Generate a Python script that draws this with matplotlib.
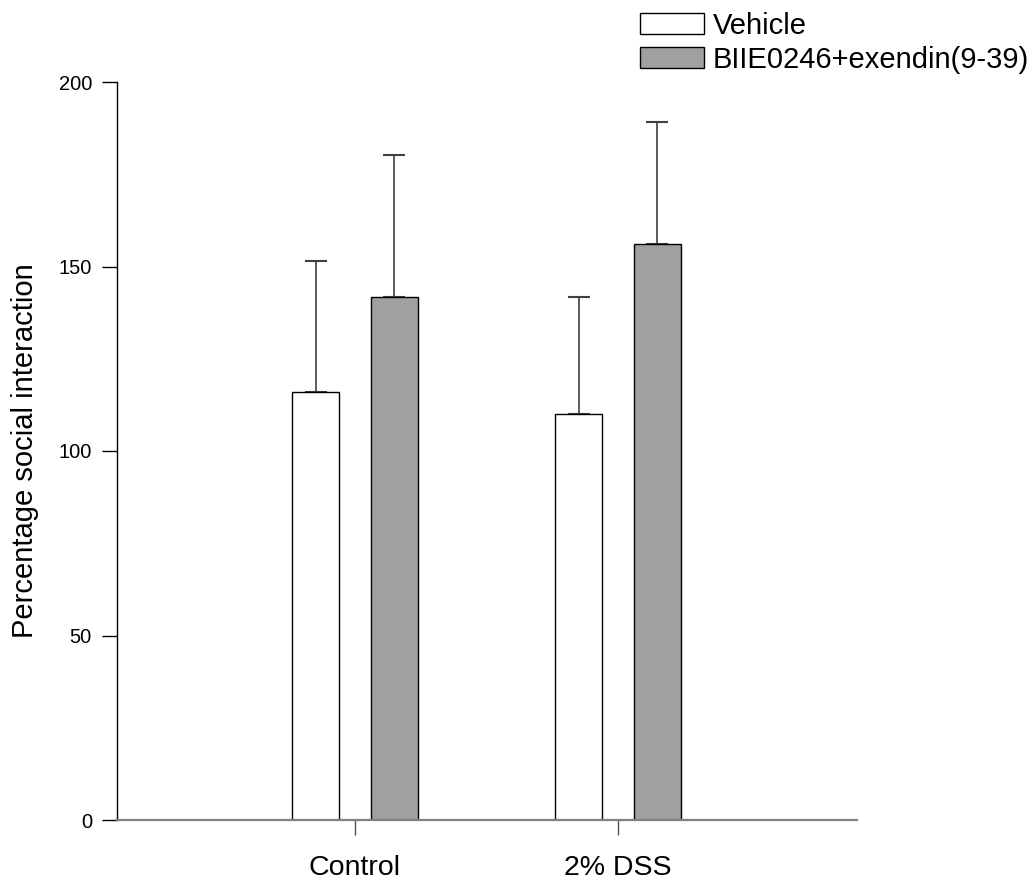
import matplotlib
matplotlib.use("Agg")
import matplotlib.pyplot as plt
import numpy as np

plt.rcParams['font.family'] = ['Liberation Sans', 'DejaVu Sans']

groups = ['Control', '2% DSS']
series = ['Vehicle', 'BIIE0246+exendin(9-39)']
means = {
    'Vehicle': [116.0, 110.0],
    'BIIE0246+exendin(9-39)': [141.7, 156.1],
}
sems = {
    'Vehicle': [35.5, 31.7],
    'BIIE0246+exendin(9-39)': [38.5, 33.1],
}
fills = {'Vehicle': 'white', 'BIIE0246+exendin(9-39)': '#a0a0a0'}
offsets = {'Vehicle': -0.15, 'BIIE0246+exendin(9-39)': 0.15}

fig = plt.figure(figsize=(10.36, 8.82), dpi=100)
ax = fig.add_axes([117 / 1036, 1 - 820 / 882, 740 / 1036, 738 / 882])

x = np.arange(len(groups))
width = 0.179
handles = []
for s in series:
    h = ax.bar(x + offsets[s], means[s], width, color=fills[s], edgecolor='black',
               linewidth=1.0, label=s, zorder=2)
    # only the upper half of the error bar, as in the original
    ax.errorbar(x + offsets[s], means[s], yerr=[np.zeros(len(groups)), sems[s]],
                fmt='none', ecolor='#404040', elinewidth=1.2, capsize=8, capthick=1.5,
                zorder=1)
    handles.append(h)

ax.set_xlim(-0.905, 1.909)
ax.set_ylim(0, 200)
ax.set_yticks([0, 50, 100, 150, 200])
ax.set_xticks(x)
ax.set_xticklabels(groups, fontsize=20.5)
ax.tick_params(axis='y', direction='out', length=11, width=1.0, labelsize=14.5, pad=7,
               color='black')
ax.tick_params(axis='x', direction='out', length=11, width=1.0, color='#505050', pad=14)
ax.yaxis.get_major_ticks()[0].tick1line.set_color('#808080')
ax.set_ylabel('Percentage social interaction', fontsize=21, labelpad=14)

for side in ['top', 'right']:
    ax.spines[side].set_visible(False)
ax.spines['left'].set_color('black')
ax.spines['left'].set_linewidth(1.0)
ax.spines['bottom'].set_color('#808080')
ax.spines['bottom'].set_linewidth(1.6)

fig.legend(handles, series, loc='upper left', bbox_to_anchor=(640 / 1036, 1 - 12 / 882),
           frameon=False, fontsize=21, handlelength=2.19, handleheight=0.72,
           handletextpad=0.31, labelspacing=0.2, borderpad=0, borderaxespad=0)

fig.savefig('out.png', dpi=100)
